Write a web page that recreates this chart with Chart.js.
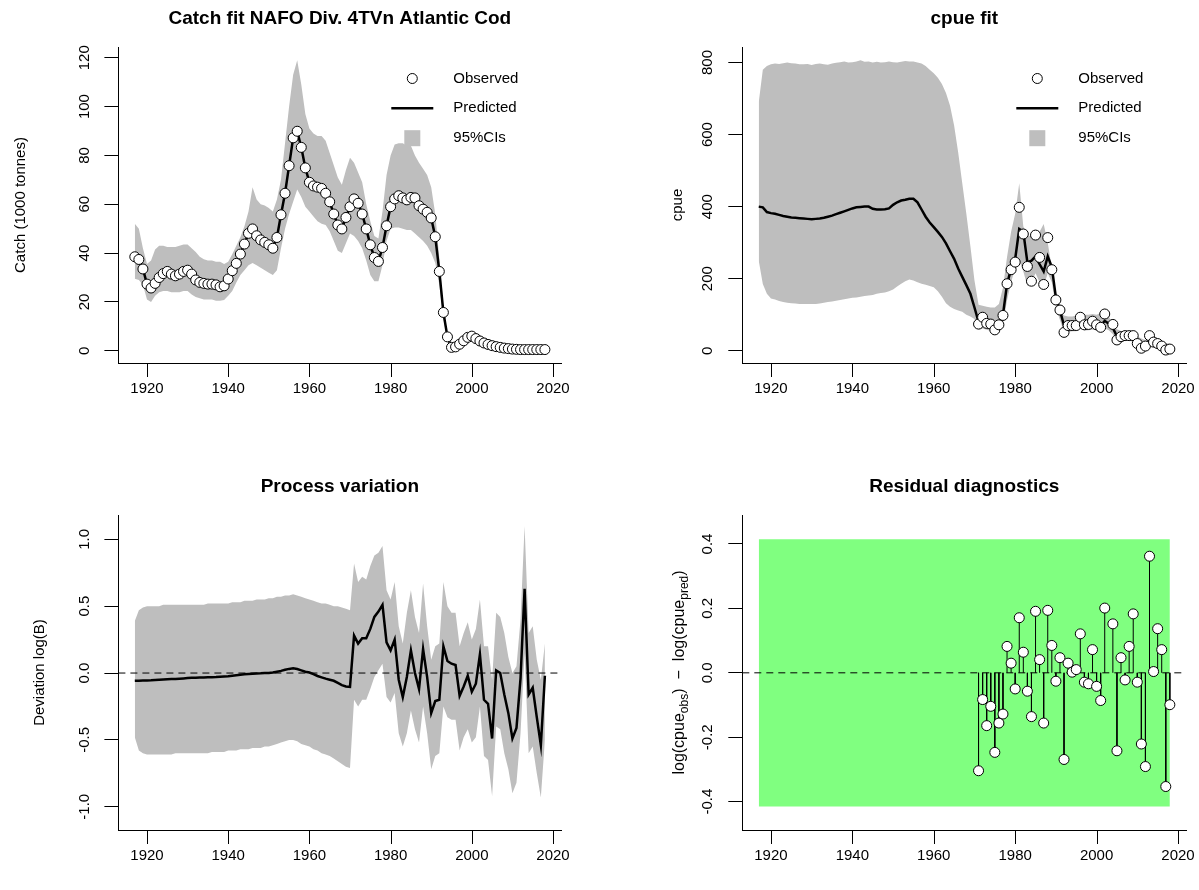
<!DOCTYPE html>
<html>
<head>
<meta charset="utf-8">
<title>Atlantic Cod 4TVn - model fit</title>
<script src="https://cdn.jsdelivr.net/npm/chart.js@4.4.1/dist/chart.umd.min.js"></script>
<style>
  body { margin: 0; background: #fff; }
  #wrap { position: relative; width: 1199px; height: 890px; overflow: hidden; }
  #wrap canvas { position: absolute; }
</style>
</head>
<body>
<div id="wrap">
  <canvas id="catchChart" width="600" height="445" style="left:0;top:0"></canvas>
  <canvas id="cpueChart" width="599" height="445" style="left:600px;top:0"></canvas>
  <canvas id="procChart" width="600" height="445" style="left:0;top:445px"></canvas>
  <canvas id="residChart" width="599" height="445" style="left:600px;top:445px"></canvas>
</div>
<script>
// ---- data -------------------------------------------------------------
const years = Array.from({ length: 102 }, (_, i) => 1917 + i);      // 1917..2018
const cpueYears = Array.from({ length: 48 }, (_, i) => 1971 + i);   // 1971..2018
const yearTicks = [1920, 1940, 1960, 1980, 2000, 2020];

// catch, 1000 t
const catchObs = [
  38.5, 37.4, 33.5,
  27.3, 25.7, 27.6, 30.0, 31.6, 32.5, 31.4, 30.7, 31.4, 32.5,
  33.0, 31.4, 29.0, 28.0, 27.6, 27.3, 27.3, 27.0, 26.2, 26.6,
  29.4, 32.8, 35.8, 39.6, 43.7, 48.1, 49.9, 47.1, 45.4, 44.4,
  43.4, 42.0, 46.4, 55.7, 64.5, 75.8, 87.2, 89.9, 83.3, 74.9,
  69.0, 67.5, 67.0, 66.5, 64.5, 61.0, 56.0, 51.5, 49.9, 54.6,
  59.0, 62.2, 60.4, 56.0, 49.9, 43.4, 38.2, 36.6, 42.3, 51.2,
  59.0, 62.2, 63.5, 62.6, 61.8, 62.8, 62.6, 59.4, 58.0, 56.7,
  54.4, 46.7, 32.5, 15.7, 5.7, 1.4, 1.6, 2.7, 4.1, 5.5,
  6.0, 5.0, 4.0, 3.2, 2.6, 2.1, 1.7, 1.4, 1.1, 0.9,
  0.7, 0.6, 0.5, 0.5, 0.5, 0.5, 0.5, 0.5, 0.5
];
const catchPred = [
  38.5, 37.4, 33.5,
  27.3, 25.7, 27.6, 30.0, 31.6, 32.5, 31.4, 30.7, 31.4, 32.5,
  33.0, 31.4, 29.0, 28.0, 27.6, 27.3, 27.3, 27.0, 26.2, 26.6,
  29.4, 32.8, 35.8, 39.6, 43.7, 48.1, 49.9, 47.1, 45.4, 44.4,
  43.4, 42.0, 46.4, 55.7, 64.5, 75.8, 87.2, 89.9, 83.3, 74.9,
  69.0, 67.5, 67.0, 66.5, 64.5, 61.0, 56.0, 51.5, 49.9, 54.6,
  59.0, 62.2, 60.4, 56.0, 49.9, 43.4, 38.2, 36.6, 42.3, 51.2,
  59.0, 62.2, 63.5, 62.6, 61.8, 62.8, 62.6, 59.4, 58.0, 56.7,
  54.4, 46.7, 32.5, 15.7, 5.7, 1.4, 1.6, 2.7, 4.1, 5.5,
  6.0, 5.0, 4.0, 3.2, 2.6, 2.1, 1.7, 1.4, 1.1, 0.9,
  0.7, 0.6, 0.5, 0.5, 0.5, 0.5, 0.5, 0.5, 0.5
];
const catchHi = [
  52, 50, 42,
  35.5, 37, 41.5, 43, 43, 42.5, 42.5, 42.5, 43, 43.5,
  43.5, 42, 40.5, 38.5, 37.5, 37, 37, 36.5, 36.5, 35.5,
  36.5, 39.5, 43, 46.5, 51, 57, 67, 62, 60, 59.5,
  58.5, 57, 62, 70, 85, 100, 113, 119, 109, 97,
  91, 89, 88, 88, 86, 81, 76, 71, 68, 74,
  79, 77, 73, 69, 60, 53, 47, 46, 57, 72,
  80, 84.5, 85, 85, 84, 84, 80, 77, 74.5, 72,
  67, 56, 38, 18, 7, 2.4, 2.6, 3.7, 5.2, 6.8,
  7.3, 6.2, 5.1, 4.2, 3.5, 2.9, 2.4, 2.0, 1.6, 1.3,
  1.1, 1.0, 0.9, 0.9, 0.9, 0.9, 0.9, 0.9, 0.9
];
const catchLo = [
  29.5, 29, 27,
  21, 20, 22.5, 24, 24.5, 24.5, 24, 24, 24, 24.5,
  24.5, 23, 22, 21.5, 21, 21, 21, 20.5, 20.5, 20.8,
  22.5, 24.5, 28, 31, 33, 35, 36, 35, 34, 33,
  32, 31, 33, 42, 50, 56, 61, 66, 63, 59,
  57, 55, 53, 52, 51.5, 49, 45, 41, 40, 44,
  48, 47, 45, 42, 37, 31, 28.5, 28.5, 35, 45,
  50, 50.5, 50.5, 50, 49.5, 49.5, 48, 46.5, 45, 43,
  40, 36, 27, 13, 4.5, 0.8, 0.9, 1.8, 3.0, 4.2,
  4.7, 3.9, 3.0, 2.4, 1.9, 1.5, 1.2, 0.9, 0.7, 0.5,
  0.4, 0.3, 0.3, 0.3, 0.3, 0.3, 0.3, 0.3, 0.3
];

// cpue
const cpuePred = [
  400, 398, 385,
  382, 380, 377, 374, 372, 370, 369, 368, 367, 366,
  365, 366, 367, 369, 372, 375, 379, 383, 387, 391,
  395, 398, 399, 400, 400, 394, 392, 392, 393, 395,
  405, 412, 417, 419, 422, 422, 412, 392, 372, 356,
  343, 330, 316, 298, 276, 255, 228, 205, 182, 158,
  120, 80, 86, 80, 76, 70, 77, 100, 185, 228,
  255, 338, 330, 245, 250, 262, 240, 220, 262, 232,
  148, 112, 70, 68, 70, 70, 82, 74, 75, 76,
  75, 70, 83, 75, 63, 40, 38, 42, 39, 35,
  21, 9, 17, 29, 24, 17, 12, 3, 5
];
const cpueHi = [
  690, 780, 790,
  795, 797, 796, 798, 800, 798, 797, 795, 795, 796,
  793, 796, 797, 795, 794, 797, 799, 801, 803, 800,
  801, 803, 806, 802, 803, 800, 802, 800, 801, 803,
  801, 800, 802, 804, 803, 803, 800, 797, 790, 780,
  770, 758, 740, 715, 680, 625, 550, 465, 380, 290,
  195, 128, 125, 122, 120, 120, 130, 175, 260, 330,
  380, 465, 345, 320, 318, 320, 330, 352, 300, 230,
  150, 110, 98, 95, 95, 98, 103, 100, 100, 102,
  100, 105, 118, 95, 72, 60, 55, 52, 50, 47,
  40, 34, 30, 38, 35, 30, 25, 21, 20
];
const cpueLo = [
  250, 185, 158,
  145, 142, 138, 135, 133, 132, 131, 130, 130, 130,
  130, 130, 131, 133, 135, 137, 139, 141, 143, 145,
  147, 148, 150, 152, 153, 155, 158, 160, 162, 165,
  170, 178, 186, 193, 198, 195, 190, 186, 183, 180,
  176, 165, 150, 132, 122, 116, 112, 108, 100, 95,
  88, 58, 62, 58, 55, 52, 57, 75, 140, 190,
  230, 250, 220, 180, 190, 215, 190, 180, 215, 190,
  120, 85, 52, 52, 54, 54, 62, 56, 57, 58,
  57, 53, 62, 57, 46, 28, 27, 30, 28, 25,
  15, 6, 12, 21, 17, 12, 8, 2, 3
];
const cpueObs = [
  74, 93, 76, 74, 58, 72, 98, 186, 225,
  246, 398, 324, 234, 193, 321, 259, 184, 314, 225,
  141, 113, 51, 70, 70, 70, 93, 72, 73, 82,
  72, 65, 102, null, 73, 30, 39, 42, 42, 42,
  20, 7, 13, 42, 24, 20, 13, 2, 4.6
];

// process deviations, log(B)
const procDev = [
  -0.058, -0.057, -0.056,
  -0.055, -0.054, -0.052, -0.050, -0.048, -0.046, -0.045, -0.044, -0.042, -0.040,
  -0.038, -0.036, -0.035, -0.034, -0.033, -0.032, -0.031, -0.030, -0.028, -0.026,
  -0.024, -0.020, -0.016, -0.012, -0.009, -0.007, -0.005, -0.003, -0.002, 0.000,
  0.000, 0.004, 0.010, 0.016, 0.024, 0.031, 0.035, 0.030, 0.020, 0.010,
  0.004, -0.008, -0.022, -0.032, -0.042, -0.050, -0.058, -0.074, -0.090, -0.100,
  -0.103, 0.28, 0.22, 0.26, 0.26, 0.33, 0.42, 0.46, 0.51, 0.23,
  0.17, 0.25, -0.05, -0.18, -0.03, 0.17, 0.00, -0.12, 0.18, -0.03,
  -0.30, -0.21, -0.20, 0.20, 0.09, 0.07, 0.06, -0.17, -0.10, -0.02,
  -0.14, -0.08, 0.14, -0.20, -0.23, -0.49, 0.02, 0.00, -0.16, -0.30,
  -0.49, -0.41, -0.04, 0.63, -0.16, -0.11, -0.33, -0.54, -0.02
];
const procHi = [
  0.39, 0.47, 0.49,
  0.50, 0.50, 0.50, 0.50, 0.51, 0.51, 0.51, 0.51, 0.51, 0.51,
  0.51, 0.51, 0.51, 0.51, 0.51, 0.52, 0.52, 0.52, 0.52, 0.52,
  0.52, 0.53, 0.53, 0.53, 0.54, 0.54, 0.54, 0.55, 0.55, 0.55,
  0.56, 0.56, 0.57, 0.57, 0.58, 0.58, 0.59, 0.58, 0.57, 0.56,
  0.55, 0.54, 0.53, 0.52, 0.52, 0.51, 0.50, 0.50, 0.49, 0.48,
  0.47, 0.82, 0.68, 0.72, 0.70, 0.80, 0.88, 0.90, 0.95, 0.62,
  0.55, 0.68, 0.35, 0.22, 0.45, 0.62, 0.42, 0.30, 0.67, 0.35,
  0.10, 0.20, 0.22, 0.68, 0.50, 0.45, 0.45, 0.20, 0.30, 0.38,
  0.25, 0.33, 0.55, 0.20, 0.20, -0.05, 0.45, 0.42, 0.30, 0.12,
  0.00, 0.05, 0.40, 1.10, 0.30, 0.35, 0.10, -0.05, 0.22
];
const procLo = [
  -0.48, -0.58, -0.60,
  -0.61, -0.61, -0.61, -0.61, -0.61, -0.61, -0.61, -0.60, -0.60, -0.60,
  -0.60, -0.60, -0.60, -0.60, -0.60, -0.60, -0.59, -0.59, -0.59, -0.59,
  -0.58, -0.58, -0.58, -0.57, -0.57, -0.57, -0.56, -0.56, -0.56, -0.55,
  -0.55, -0.54, -0.53, -0.52, -0.51, -0.50, -0.50, -0.51, -0.53, -0.54,
  -0.55, -0.57, -0.58, -0.60, -0.61, -0.62, -0.64, -0.66, -0.68, -0.70,
  -0.71, -0.20, -0.25, -0.20, -0.20, -0.12, -0.03, 0.02, 0.07, -0.18,
  -0.22, -0.15, -0.45, -0.55, -0.45, -0.28, -0.42, -0.52, -0.25, -0.45,
  -0.72, -0.62, -0.60, -0.25, -0.33, -0.35, -0.35, -0.58, -0.48, -0.42,
  -0.52, -0.48, -0.25, -0.62, -0.65, -0.92, -0.40, -0.42, -0.60, -0.72,
  -0.90, -0.82, -0.45, 0.15, -0.60, -0.55, -0.75, -0.93, -0.50
];

// log(cpue_obs) - log(cpue_pred)
const residuals = [
  -0.304, -0.083, -0.164, -0.104, -0.247, -0.156, -0.128, 0.082, 0.030,
  -0.050, 0.171, 0.064, -0.057, -0.136, 0.191, 0.041, -0.156, 0.194, 0.085,
  -0.026, 0.047, -0.269, 0.030, 0.002, 0.010, 0.121, -0.029, -0.034, 0.072,
  -0.042, -0.086, 0.201, null, 0.152, -0.242, 0.047, -0.022, 0.082, 0.183,
  -0.029, -0.221, -0.291, 0.362, 0.004, 0.137, 0.072, -0.353, -0.099
];
const residLimit = 0.415;
const residSpan = [1917, 2018];

const legendLabels = ['Observed', 'Predicted', '95%CIs'];

// ---- styling ----------------------------------------------------------
const FONT = '"Liberation Sans", Arial, Helvetica, sans-serif';
const BAND = '#BEBEBE';
const X_MIN = 1912.96, X_MAX = 2022.04;
const TICK = 14;

Chart.defaults.font.family = FONT;
Chart.defaults.font.size = 15;
Chart.defaults.color = '#000';
Chart.defaults.animation = false;
Chart.defaults.plugins.legend.display = false;
Chart.defaults.plugins.tooltip.enabled = false;

const pts = (xs, ys) => xs.map((x, i) => ({ x, y: ys[i] }));

// vertical sticks from zero (R type = "h"); a null breaks the line between years
const sticks = (xs, ys) => xs.flatMap((x, i) =>
  ys[i] == null ? [] : [{ x, y: 0 }, { x, y: ys[i] }, { x, y: null }]);

// the x tick length still spaces the labels; the marks themselves are stroked by decor
function xAxis(h) {
  return {
    type: 'linear', min: X_MIN, max: X_MAX, offset: false,
    afterBuildTicks: s => { s.ticks = yearTicks.map(v => ({ value: v })); },
    afterFit: s => { s.height = h; },
    grid: { offset: false, drawOnChartArea: false, drawTicks: true, tickLength: TICK,
            tickColor: 'rgba(0,0,0,0)' },
    border: { display: true, color: '#000', width: 1 },
    ticks: { padding: 3, color: '#000', maxRotation: 0, autoSkip: false, font: { size: 15 },
             callback: v => String(v) }
  };
}
function yAxis(min, max, ticks, w) {
  return {
    type: 'linear', min, max,
    afterBuildTicks: s => { s.ticks = ticks.map(v => ({ value: v })); },
    afterFit: s => { s.width = w; },
    grid: { offset: false, drawOnChartArea: false, drawTicks: true, tickLength: TICK, tickColor: '#000', tickWidth: 1 },
    border: { display: true, color: '#000', width: 1 },
    ticks: { display: false }
  };
}

const band = (ys, fill, order) => ({
  type: 'line', data: pts(years, ys), borderWidth: 0, borderColor: 'rgba(0,0,0,0)',
  pointRadius: 0, fill, backgroundColor: BAND, order
});
const fitLine = (xs, ys, order) => ({
  type: 'line', data: pts(xs, ys), borderColor: '#000', borderWidth: 2.5,
  pointRadius: 0, fill: false, tension: 0, order
});
const dots = (xs, ys, order) => ({
  type: 'line', data: pts(xs, ys), showLine: false, pointRadius: 5, pointHoverRadius: 5,
  pointBackgroundColor: '#fff', pointBorderColor: '#000', pointBorderWidth: 1, order
});

// titles, tick marks, rotated y tick labels, axis titles, legend and dashed zero line
function decor(o) {
  return {
    id: 'decor',
    afterDatasetDraw(chart, args) {
      if (o.zeroAfter !== args.index) return;
      const ctx = chart.ctx, a = chart.chartArea, y = chart.scales.y.getPixelForValue(0);
      ctx.save();
      ctx.strokeStyle = '#000'; ctx.lineWidth = 1; ctx.setLineDash([7, 5]);
      ctx.beginPath(); ctx.moveTo(a.left, y); ctx.lineTo(a.right, y); ctx.stroke();
      ctx.restore();
    },
    afterDraw(chart) {
      const ctx = chart.ctx, a = chart.chartArea, xs = chart.scales.x, ys = chart.scales.y;
      ctx.save();

      ctx.strokeStyle = '#000'; ctx.lineWidth = 1;
      ctx.beginPath();
      yearTicks.forEach(v => {
        const px = Math.round(xs.getPixelForValue(v)) + 0.5;
        ctx.moveTo(px, Math.round(a.bottom));
        ctx.lineTo(px, Math.round(a.bottom) + TICK);
      });
      ctx.stroke();

      ctx.fillStyle = '#000';
      ctx.textAlign = 'center'; ctx.textBaseline = 'middle';
      ctx.font = 'bold 19px ' + FONT;
      ctx.fillText(o.title, (a.left + a.right) / 2, o.titleY);

      ctx.font = '15px ' + FONT;
      o.yTicks.forEach(v => {
        ctx.save();
        ctx.translate(a.left - o.tickOff, ys.getPixelForValue(v));
        ctx.rotate(-Math.PI / 2);
        ctx.fillText(o.fmt(v), 0, 0);
        ctx.restore();
      });

      // axis title, pieces may be subscripts or carry extra space around them
      const midY = (a.top + a.bottom) / 2;
      const size = o.ylabSize || 15;
      const fontOf = p => (p.sub ? Math.round(size * 0.75) : size) + 'px ' + FONT;
      ctx.save();
      ctx.translate(o.ylabX, midY);
      ctx.rotate(-Math.PI / 2);
      let w = 0;
      o.ylab.forEach(p => { ctx.font = fontOf(p); w += ctx.measureText(p.t).width + 2 * (p.pad || 0); });
      let x = -w / 2;
      ctx.textAlign = 'left';
      o.ylab.forEach(p => {
        ctx.font = fontOf(p);
        x += p.pad || 0;
        ctx.fillText(p.t, x, p.sub ? 5 : 0);
        x += ctx.measureText(p.t).width + (p.pad || 0);
      });
      ctx.restore();

      if (o.legend) {
        const sx = a.right - 149, tx = a.right - 108;
        const rows = [a.top + 31.5, a.top + 61.3, a.top + 91.2];
        ctx.beginPath(); ctx.arc(sx, rows[0], 5, 0, Math.PI * 2);
        ctx.fillStyle = '#fff'; ctx.fill();
        ctx.strokeStyle = '#000'; ctx.lineWidth = 1; ctx.stroke();
        ctx.beginPath(); ctx.moveTo(sx - 21, rows[1]); ctx.lineTo(sx + 21, rows[1]);
        ctx.lineWidth = 2.5; ctx.stroke();
        ctx.fillStyle = BAND; ctx.fillRect(sx - 8, rows[2] - 8, 16, 16);
        ctx.fillStyle = '#000'; ctx.textAlign = 'left'; ctx.font = '15px ' + FONT;
        legendLabels.forEach((t, i) => ctx.fillText(t, tx, rows[i]));
      }
      ctx.restore();
    }
  };
}

function opts(yScale, xh, pad) {
  return {
    responsive: false, animation: false,
    layout: { padding: pad },
    scales: { x: xAxis(xh), y: yScale },
    plugins: { legend: { display: false }, tooltip: { enabled: false } }
  };
}

// ---- Catch fit ----
new Chart(document.getElementById('catchChart'), {
  type: 'line',
  data: { datasets: [
    band(catchLo, false, 4),
    band(catchHi, '-1', 3),
    fitLine(years, catchPred, 2),
    dots(years, catchObs, 1)
  ] },
  options: opts(yAxis(-5.0, 124.4, [0, 20, 40, 60, 80, 100, 120], 118.4), 82,
                { left: 0, right: 38.7, top: 47, bottom: 0 }),
  plugins: [decor({
    title: 'Catch fit NAFO Div. 4TVn Atlantic Cod', titleY: 19,
    yTicks: [0, 20, 40, 60, 80, 100, 120], fmt: v => String(v), tickOff: 34,
    ylab: [{ t: 'Catch (1000 tonnes)' }], ylabX: 21, legend: true
  })]
});

// ---- cpue fit ----
new Chart(document.getElementById('cpueChart'), {
  type: 'line',
  data: { datasets: [
    band(cpueLo, false, 4),
    band(cpueHi, '-1', 3),
    fitLine(years, cpuePred, 2),
    dots(cpueYears, cpueObs, 1)
  ] },
  options: opts(yAxis(-34, 843, [0, 200, 400, 600, 800], 142.3), 82,
                { left: 0, right: 12.7, top: 47, bottom: 0 }),
  plugins: [decor({
    title: 'cpue fit', titleY: 19,
    yTicks: [0, 200, 400, 600, 800], fmt: v => String(v), tickOff: 34,
    ylab: [{ t: 'cpue' }], ylabX: 78, legend: true
  })]
});

// ---- Process variation ----
new Chart(document.getElementById('procChart'), {
  type: 'line',
  data: { datasets: [
    band(procLo, false, 4),
    band(procHi, '-1', 3),
    fitLine(years, procDev, 2)
  ] },
  options: opts(yAxis(-1.174, 1.182, [-1, -0.5, 0, 0.5, 1], 118.4), 60,
                { left: 0, right: 38.7, top: 70, bottom: 0 }),
  plugins: [decor({
    title: 'Process variation', titleY: 42,
    yTicks: [-1, -0.5, 0, 0.5, 1], fmt: v => v.toFixed(1), tickOff: 34,
    ylab: [{ t: 'Deviation log(B)' }], ylabX: 40, zeroAfter: 1
  })]
});

// ---- Residual diagnostics ----
new Chart(document.getElementById('residChart'), {
  type: 'line',
  data: { datasets: [
    { type: 'line', data: pts(residSpan, residSpan.map(() => -residLimit)), borderWidth: 0,
      borderColor: 'rgba(0,0,0,0)', pointRadius: 0, fill: false, order: 5 },
    { type: 'line', data: pts(residSpan, residSpan.map(() => residLimit)), borderWidth: 0,
      borderColor: 'rgba(0,0,0,0)', pointRadius: 0, fill: '-1', backgroundColor: '#80FF80', order: 4 },
    { type: 'line', data: sticks(cpueYears, residuals), borderColor: '#000', borderWidth: 1,
      pointRadius: 0, fill: false, spanGaps: false, order: 2 },
    dots(cpueYears, residuals, 1)
  ] },
  options: opts(yAxis(-0.488, 0.49, [-0.4, -0.2, 0, 0.2, 0.4], 142.3), 60,
                { left: 0, right: 12.7, top: 70, bottom: 0 }),
  plugins: [decor({
    title: 'Residual diagnostics', titleY: 42,
    yTicks: [-0.4, -0.2, 0, 0.2, 0.4], fmt: v => v.toFixed(1), tickOff: 34,
    ylabSize: 16,
    ylab: [{ t: 'log(cpue' }, { t: 'obs', sub: true }, { t: ')' }, { t: '\u2212', pad: 9 },
           { t: 'log(cpue' }, { t: 'pred', sub: true }, { t: ')' }],
    ylabX: 80, zeroAfter: 1
  })]
});
</script>
</body>
</html>
